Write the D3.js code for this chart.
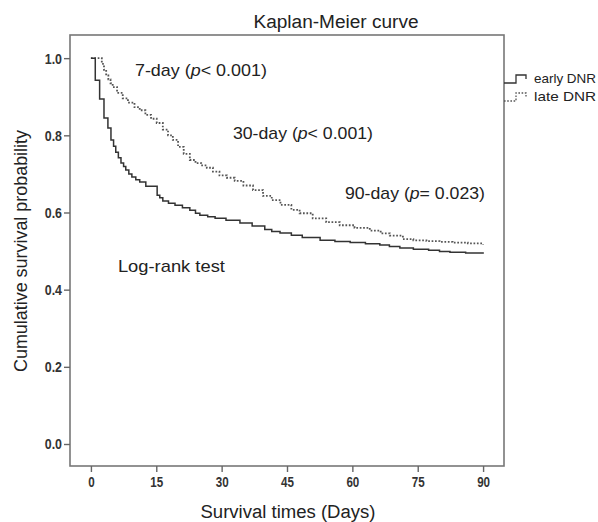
<!DOCTYPE html>
<html>
<head>
<meta charset="utf-8">
<script src="https://cdn.jsdelivr.net/npm/d3@7"></script>
<style>
  body { margin: 0; background: #fff; }
  text { font-family: Arial, "Liberation Sans", sans-serif; fill: #222; }
  .tick text { font-family: Arial, "Liberation Sans", sans-serif; font-weight: bold; font-size: 15.5px; fill: #333; }
</style>
</head>
<body>
<div id="chart"></div>
<script>
// Kaplan-Meier curves: [day, survival]
const earlyDNR = [
  [0, 1.0], [1.0, 0.943], [2.0, 0.894], [3.0, 0.845], [3.9, 0.819], [4.6, 0.788], [5.2, 0.772],
  [5.7, 0.756], [6.3, 0.742], [6.9, 0.728], [7.5, 0.719], [8.0, 0.710], [8.7, 0.700], [9.4, 0.692],
  [10.3, 0.685], [11.2, 0.679], [12.6, 0.668], [15.2, 0.645], [15.8, 0.638], [16.5, 0.630],
  [17.8, 0.624], [19.3, 0.619], [21.0, 0.612], [22.7, 0.606], [24.0, 0.598], [25.0, 0.593],
  [26.8, 0.589], [28.5, 0.585], [31.0, 0.580], [34.2, 0.573], [37.0, 0.565], [39.9, 0.556],
  [41.5, 0.551], [43.4, 0.547], [46.0, 0.541], [48.5, 0.535], [52.6, 0.528], [56.0, 0.525],
  [59.5, 0.522], [63.0, 0.519], [66.3, 0.516], [68.5, 0.512], [70.9, 0.508], [74.0, 0.505],
  [77.5, 0.502], [80.0, 0.499], [82.4, 0.497], [86.0, 0.495], [90, 0.493]
];
const lateDNR = [
  [0, 1.0], [2.5, 0.985], [3.0, 0.970], [3.5, 0.955], [4.0, 0.945], [4.5, 0.935], [5.0, 0.925],
  [6.0, 0.910], [7.3, 0.896], [8.5, 0.885], [10.0, 0.873], [11.2, 0.865], [12.5, 0.853],
  [13.8, 0.843], [15.1, 0.832], [16.5, 0.815], [17.7, 0.800], [18.8, 0.788], [20.0, 0.770],
  [21.3, 0.752], [22.7, 0.736], [24.0, 0.728], [25.3, 0.722], [26.6, 0.716], [28.0, 0.706],
  [29.5, 0.696], [31.2, 0.690], [33.0, 0.682], [35.0, 0.670], [37.2, 0.658], [39.5, 0.643],
  [41.5, 0.632], [43.5, 0.620], [46.0, 0.607], [47.9, 0.598], [50.9, 0.585], [54.0, 0.575],
  [57.1, 0.567], [60.5, 0.560], [64.0, 0.553], [66.5, 0.546], [68.6, 0.540], [71.6, 0.531],
  [74.0, 0.528], [77.0, 0.526], [80.0, 0.524], [83.0, 0.522], [86.5, 0.520], [90, 0.517]
];
const seriesNames = ["early DNR", "late DNR"];
const xTicks = [0, 15, 30, 45, 60, 75, 90];
const yTicks = [0.0, 0.2, 0.4, 0.6, 0.8, 1.0];
const notes = [
  {day: 10.1, v: 0.964, label: "7-day (", p: "p", rest: "< 0.001)", len: 132},
  {day: 32.6, v: 0.800, label: "30-day (", p: "p", rest: "< 0.001)", len: 140},
  {day: 58.3, v: 0.645, label: "90-day (", p: "p", rest: "= 0.023)", len: 140},
  {day: 6.2, v: 0.456, label: "Log-rank test", p: "", rest: "", len: 107}
];

const width = 598;
const height = 522;
const box = {l: 70, r: 504, t: 35, b: 466};

const svg = d3.select("#chart")
  .append("svg")
  .attr("width", width)
  .attr("height", height);

const xScale = d3.scaleLinear()
  .domain([-4.8, 94.8])
  .range([box.l, box.r]);
const yScale = d3.scaleLinear()
  .domain([-0.057, 1.06])
  .range([box.b, box.t]);

// frame
svg.append("rect")
  .attr("x", box.l)
  .attr("y", box.t)
  .attr("width", box.r - box.l)
  .attr("height", box.b - box.t)
  .attr("fill", "none")
  .attr("stroke", "#777")
  .attr("stroke-width", 1.6);

//axes (narrow bold labels)
const x_axis = d3.axisBottom(xScale).tickValues(xTicks).tickSize(6).tickSizeOuter(0).tickPadding(4);
const gx = svg.append("g")
  .attr("transform", `translate(0, ${box.b})`)
  .call(x_axis);
gx.select(".domain").remove();
gx.selectAll(".tick line").attr("stroke", "#666").attr("stroke-width", 1.4);
gx.selectAll(".tick text").attr("transform", "scale(0.75,1)");

const y_axis = d3.axisLeft(yScale).tickValues(yTicks).tickFormat(d3.format(".1f")).tickSize(6).tickSizeOuter(0).tickPadding(4);
const gy = svg.append("g")
  .attr("transform", `translate(${box.l}, 0)`)
  .call(y_axis);
gy.select(".domain").remove();
gy.selectAll(".tick line").attr("stroke", "#666").attr("stroke-width", 1.4);
gy.selectAll(".tick text").attr("transform", "scale(0.8,1)").attr("font-size", "14px");

// curves
const makeLine = d3.line()
  .curve(d3.curveStepAfter)
  .x(d => xScale(d[0]))
  .y(d => yScale(d[1]));

svg.append("path")
  .attr("fill", "none")
  .attr("stroke", "#555")
  .attr("stroke-width", 1.8)
  .attr("stroke-dasharray", "1.7,1.7")
  .attr("d", makeLine(lateDNR));

svg.append("path")
  .attr("fill", "none")
  .attr("stroke", "#333")
  .attr("stroke-width", 1.5)
  .attr("d", makeLine(earlyDNR));

// annotations
notes.forEach(n => {
  const t = svg.append("text")
    .attr("x", xScale(n.day))
    .attr("y", yScale(n.v))
    .attr("font-size", "17px")
    .attr("textLength", n.len)
    .attr("lengthAdjust", "spacingAndGlyphs")
    .attr("dominant-baseline", "middle");
  t.append("tspan").text(n.label);
  if (n.p) {
    t.append("tspan").attr("font-style", "italic").text(n.p);
    t.append("tspan").text(n.rest);
  }
});

// titles
svg.append("text")
  .attr("x", 336)
  .attr("y", 23)
  .attr("text-anchor", "middle")
  .attr("dominant-baseline", "middle")
  .attr("font-size", "18px")
  .attr("textLength", 165)
  .attr("lengthAdjust", "spacingAndGlyphs")
  .attr("fill", "#333")
  .text("Kaplan-Meier curve");

svg.append("text")
  .attr("x", 288)
  .attr("y", 513)
  .attr("text-anchor", "middle")
  .attr("dominant-baseline", "middle")
  .attr("font-size", "18px")
  .attr("textLength", 175)
  .attr("lengthAdjust", "spacingAndGlyphs")
  .attr("fill", "#333")
  .text("Survival times (Days)");

svg.append("text")
  .attr("transform", `translate(22, 251) rotate(-90)`)
  .attr("text-anchor", "middle")
  .attr("dominant-baseline", "middle")
  .attr("font-size", "17.5px")
  .attr("textLength", 242)
  .attr("lengthAdjust", "spacingAndGlyphs")
  .attr("fill", "#333")
  .text("Cumulative survival probability");

// legend
const legend = svg.append("g").attr("transform", `translate(${box.r}, 0)`);
const legSym = d3.line().x(d => d[0]).y(d => d[1]);
seriesNames.forEach((name, i) => {
  const y0 = 83 + i * 18;
  legend.append("path")
    .attr("fill", "none")
    .attr("stroke", i === 0 ? "#333" : "#555")
    .attr("stroke-width", 1.3)
    .attr("stroke-dasharray", i === 0 ? null : "1.6,1.6")
    .attr("d", legSym([[0, y0], [12, y0], [12, y0 - 8], [22, y0 - 8], [22, y0 - 4]]));
  legend.append("text")
    .attr("x", 30)
    .attr("y", y0 - 3)
    .attr("dominant-baseline", "middle")
    .attr("font-size", "13px")
    .attr("textLength", 62)
    .attr("lengthAdjust", "spacingAndGlyphs")
    .text(name);
});
</script>
</body>
</html>
